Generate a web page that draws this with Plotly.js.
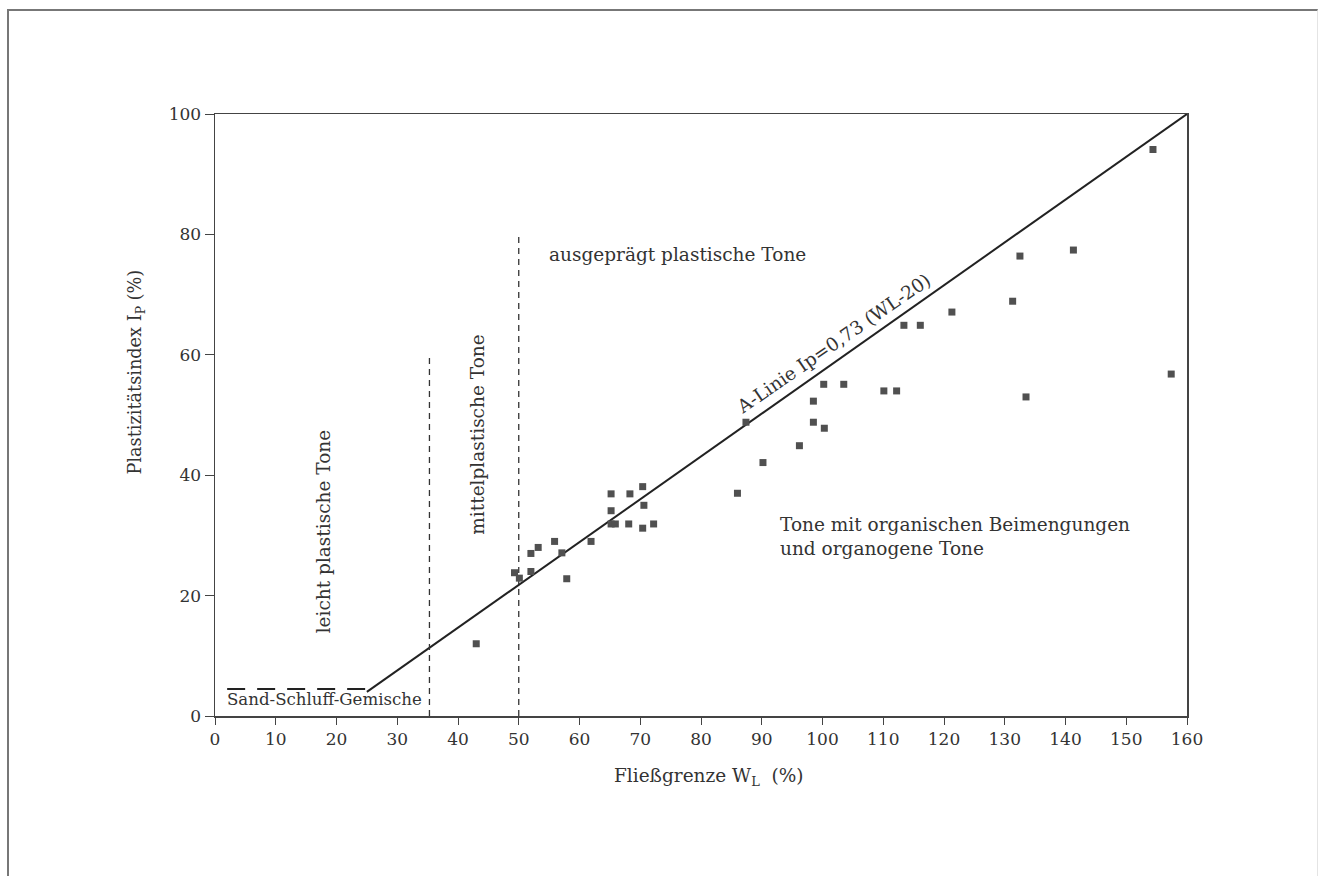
<!DOCTYPE html>
<html><head><meta charset="utf-8">
<script src="https://cdn.plot.ly/plotly-3.0.1.min.js"></script>
<style>
html,body{margin:0;padding:0;background:#fff;}
#wrap{position:relative;width:1319px;height:876px;}
#chart{position:absolute;left:0;top:0;width:1319px;height:876px;}
#frame{position:absolute;left:7px;top:9px;width:1308px;height:880px;border-left:2px solid #777;border-top:2px solid #777;border-right:1px solid #e4e4e4;pointer-events:none;}
</style></head>
<body><div id="wrap"><div id="chart"></div><div id="frame"></div></div>
<script>
// Measured samples: liquid limit W_L (%) and plasticity index I_P (%)
const wl = [43, 49.3, 50.1, 52, 52, 53.2, 55.9, 57.1, 57.9, 61.9, 65.2, 65.2, 65.2, 65.9, 68.3, 68.1, 70.4, 70.6, 70.4, 72.2,
            86, 87.4, 90.2, 96.2, 98.5, 98.5, 100.3, 100.2, 103.5, 110.1, 112.2, 113.4, 116.1, 121.3,
            131.3, 132.5, 133.5, 141.3, 154.4, 157.4];
const ip = [12, 23.8, 22.9, 24, 27, 28, 29, 27.1, 22.8, 29, 36.9, 34.1, 31.9, 31.9, 36.9, 31.9, 38.1, 35, 31.2, 31.9,
            37, 48.8, 42.1, 44.9, 52.3, 48.8, 47.8, 55.1, 55.1, 54, 54, 64.9, 64.9, 67.1,
            68.9, 76.4, 53, 77.4, 94.1, 56.8];
// A-line Ip = 0.73 (WL - 20)
const aLineX = [25, 160];
const aLineY = [4, 100];
// Sand-Schluff boundary
const sandX = [2, 25];
const sandY = [4.5, 4.5];
// Vertical boundaries
const bound1X = [35.3, 35.3], bound1Y = [0, 60.3];
const bound2X = [50, 50], bound2Y = [0, 80.2];
const xTicks = [0,10,20,30,40,50,60,70,80,90,100,110,120,130,140,150,160];
const yTicks = [0,20,40,60,80,100];

const F = 'DejaVu Serif, serif';
const C = '#333';
const traces = [
  {x: aLineX, y: aLineY, mode:'lines', line:{color:'#222', width:2}, hoverinfo:'skip'},
  {x: sandX, y: sandY, mode:'lines', line:{color:'#222', width:2, dash:'18px,12px'}, hoverinfo:'skip'},
  {x: bound1X, y: bound1Y, mode:'lines', line:{color:'#333', width:1.3, dash:'6px,5px'}, hoverinfo:'skip'},
  {x: bound2X, y: bound2Y, mode:'lines', line:{color:'#333', width:1.3, dash:'6px,5px'}, hoverinfo:'skip'},
  {x: wl, y: ip, mode:'markers', marker:{symbol:'square', size:7, color:'#505050'}}
];
const S = 18.5;
const ann = (x,y,text,extra) => Object.assign({x, y, xref:'x', yref:'y', text, showarrow:false, font:{family:F, size:S, color:C}}, extra||{});
const layout = {
  width:1319, height:876, showlegend:false,
  paper_bgcolor:'#fff', plot_bgcolor:'#fff',
  margin:{l:215, r:132, t:114, b:160},
  font:{family:F, size:17, color:C},
  xaxis:{range:[0,160], tickvals:xTicks, ticks:'outside', ticklen:7, tickcolor:'#444', showgrid:false, zeroline:false,
         showline:true, linecolor:'#444', linewidth:1.5, mirror:true, tickfont:{family:F, size:17, color:C}},
  yaxis:{range:[0,100], tickvals:yTicks, ticks:'outside', ticklen:9, tickcolor:'#444', showgrid:false, zeroline:false,
         showline:true, linecolor:'#444', linewidth:1.5, mirror:true, tickfont:{family:F, size:17, color:C}},
  annotations:[
    {xref:'paper', yref:'paper', x:0.508, y:-0.101, xanchor:'center', yanchor:'middle', text:'Fließgrenze W<sub>L</sub>  (%)', showarrow:false, font:{family:F, size:18.5, color:C}},
    {xref:'paper', yref:'paper', x:-0.081, y:0.571, xanchor:'center', yanchor:'middle', text:'Plastizitätsindex I<sub>P</sub> (%)', textangle:-90, showarrow:false, font:{family:F, size:17.7, color:C}},
    ann(1.6, 0.9, 'Sand-Schluff-Gemische', {xanchor:'left', yanchor:'bottom', font:{family:F, size:16.6, color:C}}),
    ann(17.8, 30.7, 'leicht plastische Tone', {textangle:-90}),
    ann(43.2, 46.8, 'mittelplastische Tone', {textangle:-90}),
    ann(54.6, 76.6, 'ausgeprägt plastische Tone', {xanchor:'left'}),
    ann(101.8, 61.9, 'A-Linie Ip=0,73 (WL-20)', {textangle:-34.6}),
    ann(92.6, 29.8, 'Tone mit organischen Beimengungen<br>und organogene Tone', {xanchor:'left', align:'left'})
  ]
};
Plotly.newPlot('chart', traces, layout, {displayModeBar:false, staticPlot:true});
</script></body></html>
